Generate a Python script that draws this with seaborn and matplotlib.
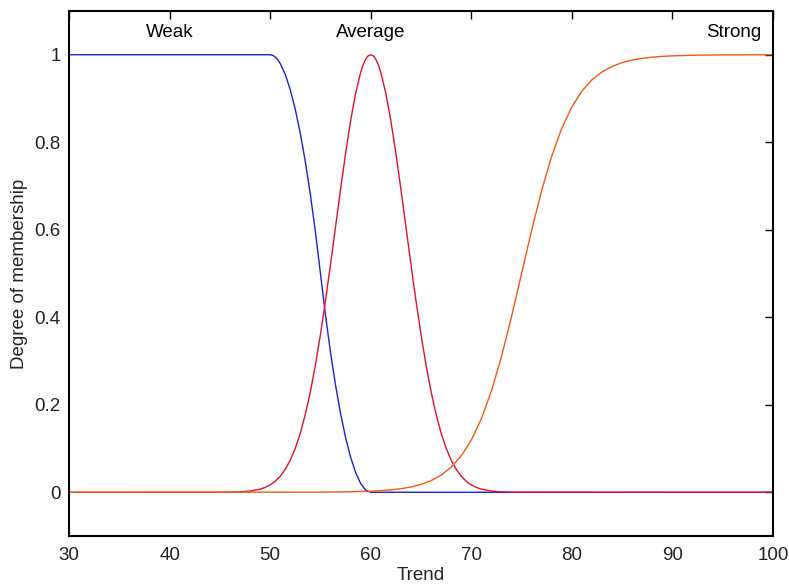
import numpy as np
import pandas as pd
import matplotlib
matplotlib.use("Agg")
import matplotlib.pyplot as plt
import seaborn as sns

# ---- data ----
weak_x = [30, 50, 50.25, 50.5, 50.75, 51, 51.5, 52, 52.5, 53, 53.5, 54, 54.5, 55, 55.5,
          56, 56.5, 57, 57.5, 58, 58.5, 59, 59.5, 60, 100]
weak_y = [1, 1, 0.99875, 0.995, 0.98875, 0.98, 0.955, 0.92, 0.875, 0.82, 0.755, 0.68,
          0.595, 0.5, 0.405, 0.32, 0.245, 0.18, 0.125, 0.08, 0.045, 0.02, 0.005, 0, 0]

avg_x = [30, 45, 46, 47, 48, 49, 49.5, 50, 50.5, 51, 51.5, 52, 52.5, 53, 53.5, 54, 54.5,
         55, 55.5, 56, 56.5, 57, 57.5, 58, 58.5, 59, 59.25, 59.5, 59.75, 60, 60.25,
         60.5, 60.75, 61, 61.5, 62, 62.5, 63, 63.5, 64, 64.5, 65, 65.5, 66, 66.5, 67,
         67.5, 68, 68.5, 69, 69.5, 70, 70.5, 71, 72, 73, 74, 75, 100]
avg_y = [0, 0.0001, 0.00034, 0.00101, 0.0028, 0.00716, 0.01111, 0.01688, 0.02513,
         0.03667, 0.05239, 0.07339, 0.10067, 0.13534, 0.17827, 0.23006, 0.29091,
         0.36044, 0.43758, 0.52045, 0.60653, 0.69255, 0.77483, 0.84936, 0.91225,
         0.96, 0.9773, 0.98985, 0.99745, 1.0, 0.99745, 0.98985, 0.9773, 0.96,
         0.91225, 0.84936, 0.77483, 0.69255, 0.60653, 0.52045, 0.43758, 0.36044,
         0.29091, 0.23006, 0.17827, 0.13534, 0.10067, 0.07339, 0.05239, 0.03667,
         0.02513, 0.01688, 0.01111, 0.00716, 0.0028, 0.00101, 0.00034, 0.0001, 0]

strong_x = [30, 55, 57, 59, 60, 61, 62, 63, 64, 65, 66, 67, 68, 69, 70, 71, 72, 73, 74,
            75, 76, 77, 78, 79, 80, 81, 82, 83, 84, 85, 86, 87, 88, 89, 90, 92, 95,
            100]
strong_y = [0, 0.000335, 0.000746, 0.00166, 0.00247, 0.00369, 0.00548, 0.00816,
            0.01213, 0.01799, 0.0266, 0.03917, 0.05732, 0.08317, 0.1192, 0.168,
            0.2315, 0.31, 0.4013, 0.5, 0.5987, 0.69, 0.7685, 0.832, 0.8808, 0.9168,
            0.9427, 0.9608, 0.9734, 0.982, 0.9879, 0.9918, 0.9945, 0.9963, 0.9975,
            0.9989, 0.99966, 0.99995]

labels = ["Weak", "Average", "Strong"]
x_ticks = [30, 40, 50, 60, 70, 80, 90, 100]
y_ticks = [0, 0.2, 0.4, 0.6, 0.8, 1]
y_tick_labels = ["0", "0.2", "0.4", "0.6", "0.8", "1"]

colors = {"Weak": "#1f1fcc", "Average": "#e0102e", "Strong": "#f05a14"}

df = pd.concat([
    pd.DataFrame({"x": weak_x, "y": weak_y, "set": "Weak"}),
    pd.DataFrame({"x": avg_x, "y": avg_y, "set": "Average"}),
    pd.DataFrame({"x": strong_x, "y": strong_y, "set": "Strong"}),
], ignore_index=True)

sns.set_theme(style="white")
plt.rcParams["font.family"] = ["Liberation Sans", "DejaVu Sans"]

fig = plt.figure(figsize=(7.89, 5.88), dpi=100)
ax = fig.add_axes([0.0875, 0.0884, 0.8922, 0.8929])

sns.lineplot(data=df, x="x", y="y", hue="set", palette=colors, hue_order=labels,
             linewidth=1.0, legend=False, ax=ax, sort=False, estimator=None)

FS = 13.5
ax.set_xlim(30, 100)
ax.set_ylim(-0.1, 1.1)
ax.set_xticks(x_ticks)
ax.set_xticklabels([str(t) for t in x_ticks])
ax.set_yticks(y_ticks)
ax.set_yticklabels(y_tick_labels)
ax.tick_params(direction="in", length=6, width=1, colors="black",
               top=True, right=True, labelsize=FS, labelcolor="#222222")
ax.tick_params(axis="x", pad=8)
ax.tick_params(axis="y", pad=6)
for s in ax.spines.values():
    s.set_color("black")
    s.set_linewidth(1.5)

ax.set_xlabel("Trend", fontsize=FS, color="#222222", labelpad=2)
ax.set_ylabel("Degree of membership", fontsize=FS, color="#222222", labelpad=5)

ax.text(40, 1.05, "Weak", ha="center", va="center", fontsize=FS, color="black")
ax.text(60, 1.05, "Average", ha="center", va="center", fontsize=FS, color="black")
ax.text(98.8, 1.05, "Strong", ha="right", va="center", fontsize=FS, color="black")

fig.savefig("out.png", dpi=100)
